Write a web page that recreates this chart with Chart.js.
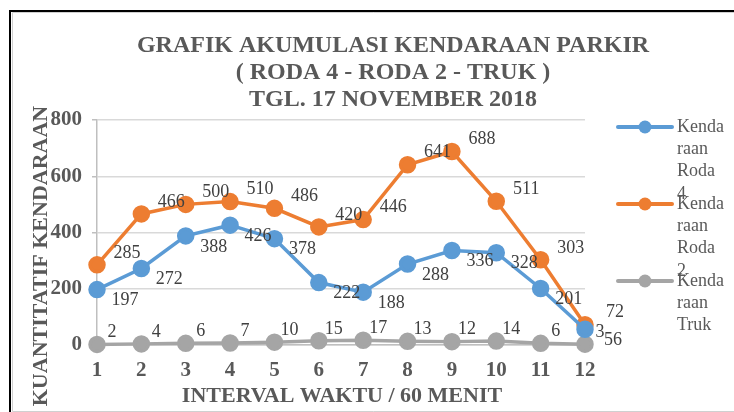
<!DOCTYPE html>
<html>
<head>
<meta charset="utf-8">
<script src="https://cdn.jsdelivr.net/npm/chart.js@4"></script>
<style>
html,body{margin:0;padding:0;background:#fff;}
#wrap{position:relative;width:734px;height:412px;}
</style>
</head>
<body>
<div id="wrap"><canvas id="c" width="734" height="412"></canvas></div>
<script>
const categories = ['1','2','3','4','5','6','7','8','9','10','11','12'];
const roda4 = [197, 272, 388, 426, 378, 222, 188, 288, 336, 328, 201, 56];
const roda2 = [285, 466, 500, 510, 486, 420, 446, 641, 688, 511, 303, 72];
const truk  = [2, 4, 6, 7, 10, 15, 17, 13, 12, 14, 6, 3];
const seriesNames = ['Kendaraan Roda 4', 'Kendaraan Roda 2', 'Kendaraan Truk'];
const titleLines = ['GRAFIK AKUMULASI KENDARAAN PARKIR', '( RODA 4 - RODA 2 - TRUK )', 'TGL. 17 NOVEMBER 2018'];
const yTitle = 'KUANTITATIF KENDARAAN';
const xTitle = 'INTERVAL WAKTU / 60 MENIT';

const SERIF = '"Liberation Serif", "Times New Roman", serif';
const colors = ['#5B9BD5', '#ED7D31', '#A5A5A5'];
const labelOffsets = [[28, 11], [30, -12], [15, -12]];

const decor = {
  id: 'decor',
  beforeDraw(chart) {
    const ctx = chart.ctx;
    ctx.save();
    ctx.fillStyle = '#fff';
    ctx.fillRect(0, 0, chart.width, chart.height);
    ctx.strokeStyle = '#d0d0d0';
    ctx.lineWidth = 1;
    ctx.beginPath();
    ctx.moveTo(12.5, 411.5); ctx.lineTo(734, 411.5);
    ctx.moveTo(12.5, 12.5); ctx.lineTo(734, 12.5);
    ctx.moveTo(12.5, 12.5); ctx.lineTo(12.5, 411.5);
    ctx.stroke();
    ctx.strokeStyle = '#000';
    ctx.lineWidth = 2;
    ctx.beginPath();
    ctx.moveTo(10, 412); ctx.lineTo(10, 11); ctx.lineTo(734, 11);
    ctx.stroke();
    ctx.restore();
  },
  afterDraw(chart) {
    const ctx = chart.ctx;
    ctx.save();
    // title
    ctx.fillStyle = '#595959';
    ctx.font = 'bold 24px ' + SERIF;
    ctx.textAlign = 'center';
    ctx.textBaseline = 'middle';
    titleLines.forEach((t, i) => ctx.fillText(t, 393, 46 + i * 27));
    // axis titles
    ctx.font = 'bold 22px ' + SERIF;
    ctx.fillText(xTitle, 342, 396);
    ctx.save();
    ctx.translate(41, 256);
    ctx.rotate(-Math.PI / 2);
    ctx.fillText(yTitle, 0, 0);
    ctx.restore();
    // legend
    const maxW = 49;
    ctx.font = '18px ' + SERIF;
    const wrap = (text) => {
      const words = text.split(' ');
      const lines = [];
      let cur = '';
      words.forEach(w => {
        const cand = cur ? cur + ' ' + w : w;
        if (ctx.measureText(cand).width <= maxW) { cur = cand; return; }
        if (cur) { lines.push(cur); cur = ''; }
        let chunk = '';
        for (const ch of w) {
          if (ctx.measureText(chunk + ch).width > maxW && chunk) { lines.push(chunk); chunk = ch; }
          else chunk += ch;
        }
        cur = chunk;
      });
      if (cur) lines.push(cur);
      return lines;
    };
    seriesNames.forEach((name, i) => {
      const y = 127 + i * 77;
      ctx.strokeStyle = colors[i];
      ctx.lineWidth = 4;
      ctx.lineCap = 'round';
      ctx.beginPath();
      ctx.moveTo(618, y); ctx.lineTo(672, y);
      ctx.stroke();
      ctx.fillStyle = colors[i];
      ctx.beginPath();
      ctx.arc(645, y, 6.5, 0, Math.PI * 2);
      ctx.fill();
      ctx.fillStyle = '#595959';
      ctx.textAlign = 'left';
      ctx.textBaseline = 'middle';
      wrap(name).forEach((ln, j) => ctx.fillText(ln, 677, y + j * 22.3));
    });
    ctx.restore();
  },
  afterDatasetsDraw(chart) {
    const ctx = chart.ctx;
    ctx.save();
    ctx.font = '18px ' + SERIF;
    ctx.fillStyle = '#404040';
    ctx.textAlign = 'center';
    ctx.textBaseline = 'middle';
    chart.data.datasets.forEach((ds, i) => {
      const meta = chart.getDatasetMeta(i);
      const [dx, dy] = labelOffsets[i];
      meta.data.forEach((el, j) => {
        ctx.fillText(String(ds.data[j]), el.x + dx, el.y + dy);
      });
    });
    ctx.restore();
  }
};

const mk = (label, data, i) => ({
  label, data,
  borderColor: colors[i],
  backgroundColor: colors[i],
  pointBackgroundColor: colors[i],
  pointBorderColor: colors[i],
  borderWidth: 3.5,
  pointRadius: 7,
  pointHoverRadius: 7,
  tension: 0,
  clip: false
});

new Chart(document.getElementById('c'), {
  type: 'line',
  data: {
    labels: categories,
    datasets: [
      mk(seriesNames[0], roda4, 0),
      mk(seriesNames[1], roda2, 1),
      mk(seriesNames[2], truk, 2)
    ]
  },
  options: {
    responsive: false,
    animation: false,
    events: [],
    layout: { padding: { left: 10, right: 149, top: 120, bottom: 12 } },
    plugins: { legend: { display: false }, title: { display: false }, tooltip: { enabled: false } },
    scales: {
      x: {
        offset: false,
        grid: { display: false, drawTicks: false },
        border: { display: true, color: '#bfbfbf', width: 1.5 },
        ticks: { color: '#595959', font: { family: SERIF, size: 21, weight: 'bold' }, padding: 13, maxRotation: 0, autoSkip: false },
        afterFit(s) { s.height = 55; }
      },
      y: {
        min: 0, max: 800,
        grid: { color: '#d9d9d9', lineWidth: 1.5, tickLength: 5, tickColor: '#bfbfbf' },
        border: { display: true, color: '#bfbfbf', width: 1.5 },
        ticks: { stepSize: 200, color: '#595959', font: { family: SERIF, size: 21, weight: 'bold' }, padding: 10 },
        afterFit(s) { s.width = 87; }
      }
    }
  },
  plugins: [decor]
});
</script>
</body>
</html>
